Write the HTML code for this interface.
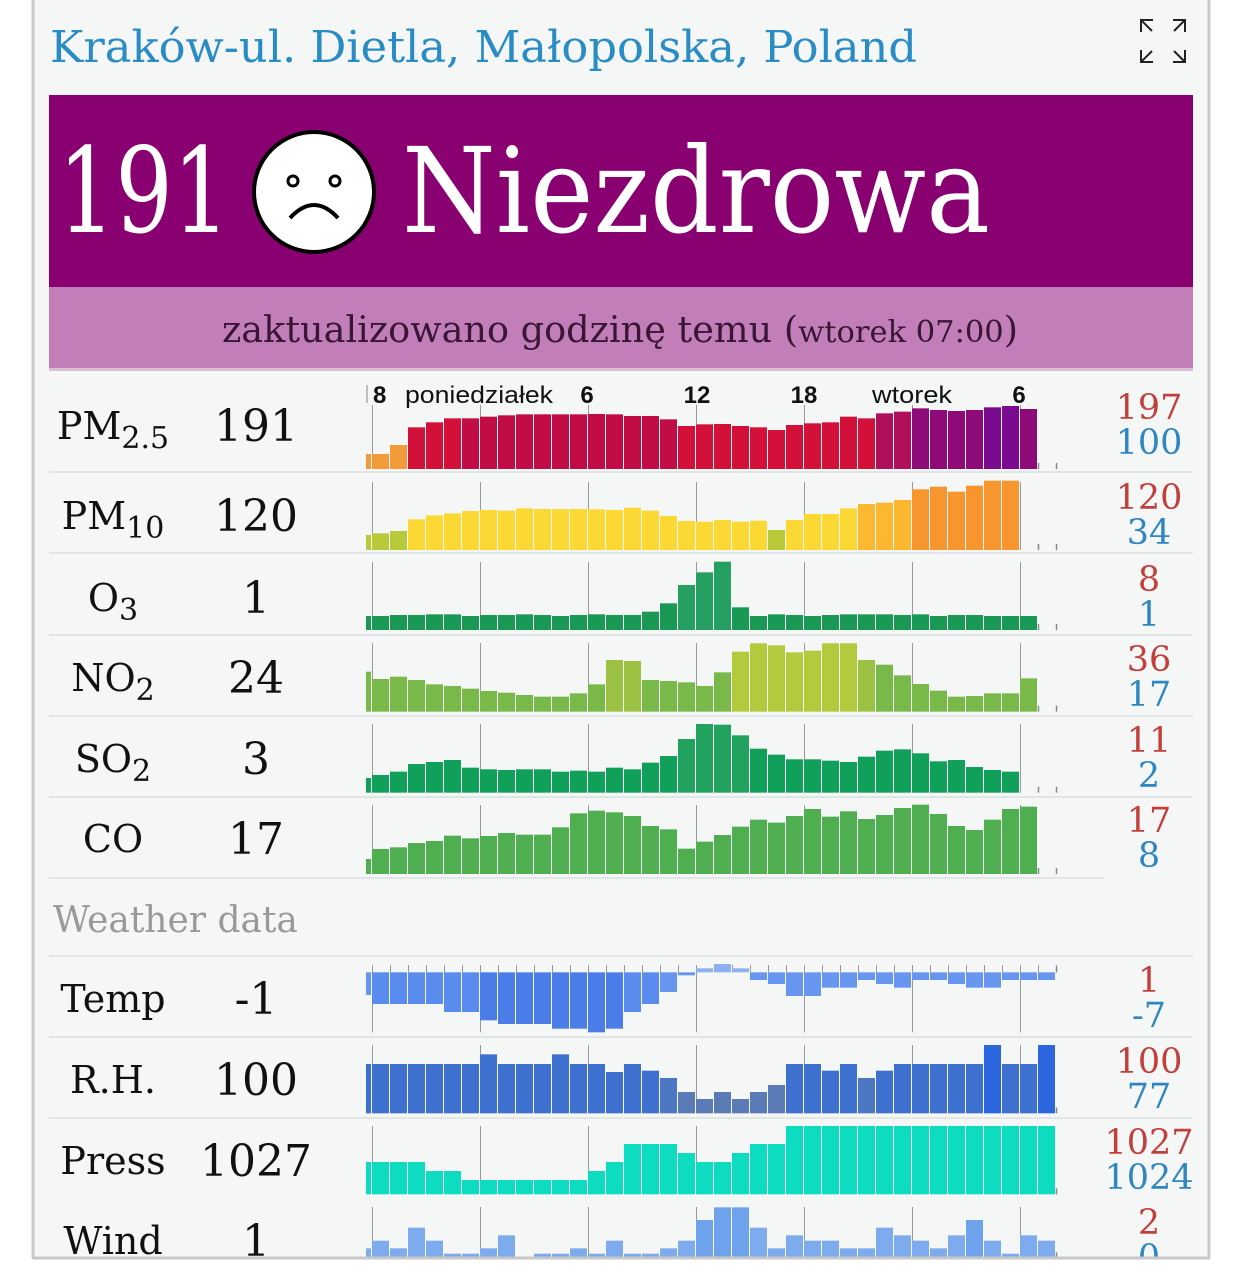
<!DOCTYPE html>
<html><head><meta charset="utf-8"><style>
html,body{margin:0;padding:0;background:#fff;}
svg{display:block}
.s{font-family:"DejaVu Serif","Liberation Serif",serif}
.a{font-family:"Liberation Sans",sans-serif}
</style></head><body>
<svg id="c" width="1242" height="1281" viewBox="0 0 1242 1281" xmlns="http://www.w3.org/2000/svg">
<rect x="32" y="0" width="1178" height="1258" fill="#f5f7f7"/>
<line x1="33" y1="0" x2="33" y2="1258" stroke="#c8c8c8" stroke-width="3"/>
<line x1="1209" y1="0" x2="1209" y2="1258" stroke="#c8c8c8" stroke-width="3"/>
<text class="s" x="50" y="62" font-size="44" fill="#2a8cc4" textLength="867" lengthAdjust="spacingAndGlyphs">Kraków-ul. Dietla, Małopolska, Poland</text>
<g stroke="#222" stroke-width="2" fill="none">
<path d="M1141 32 V20 H1153 M1141 20 L1152 31"/>
<path d="M1185 32 V20 H1173 M1185 20 L1174 31"/>
<path d="M1141 50 V62 H1153 M1141 62 L1152 51"/>
<path d="M1185 50 V62 H1173 M1185 62 L1174 51"/>
</g>
<rect x="49" y="95" width="1144" height="192" fill="#890070"/>
<rect x="49" y="287" width="1144" height="83" fill="#c27eb8"/>
<rect x="49" y="368" width="1144" height="3" fill="#d8c0d4"/>
<text class="s" x="58" y="232" font-size="118" fill="#fff" textLength="172" lengthAdjust="spacingAndGlyphs">191</text>
<circle cx="314" cy="192" r="60" fill="#fff" stroke="#000" stroke-width="4"/>
<circle cx="293" cy="181" r="5" fill="none" stroke="#000" stroke-width="3"/>
<circle cx="335" cy="181" r="5" fill="none" stroke="#000" stroke-width="3"/>
<path d="M290 218 Q314 192 338 218" fill="none" stroke="#000" stroke-width="4"/>
<text class="s" x="402" y="232" font-size="118" fill="#fff" textLength="588" lengthAdjust="spacingAndGlyphs">Niezdrowa</text>
<text class="s" x="222" y="342" font-size="36" fill="#3a1636" textLength="796" lengthAdjust="spacingAndGlyphs">zaktualizowano godzinę temu (<tspan font-size="30">wtorek 07:00</tspan>)</text>
<g class="a" font-size="24" fill="#111">
<line x1="367" y1="385" x2="367" y2="403" stroke="#888"/>
<text x="373" y="403" font-weight="bold">8</text>
<text x="405" y="403" textLength="148" lengthAdjust="spacingAndGlyphs">poniedziałek</text>
<text x="587" y="403" font-weight="bold" text-anchor="middle">6</text>
<text x="697" y="403" font-weight="bold" text-anchor="middle">12</text>
<text x="804" y="403" font-weight="bold" text-anchor="middle">18</text>
<text x="872" y="403" textLength="80" lengthAdjust="spacingAndGlyphs">wtorek</text>
<text x="1019" y="403" font-weight="bold" text-anchor="middle">6</text>
</g>
<text class="s" x="53" y="932" font-size="36" fill="#999">Weather data</text>
<g id="bars"></g>
<g id="lbl" class="s" fill="#111"></g>
<rect x="0" y="1258" width="1242" height="23" fill="#fff"/>
<line x1="32" y1="1258" x2="1210" y2="1258" stroke="#c8c8c8" stroke-width="3"/>
</svg>
<script>
var NS="http://www.w3.org/2000/svg",B=document.getElementById('bars'),L=document.getElementById('lbl');
function el(p,t,a,txt){var e=document.createElementNS(NS,t);for(var k in a)e.setAttribute(k,a[k]);if(txt!==undefined)e.textContent=txt;p.appendChild(e);return e;}
function rect(x,y,w,h,c){if(h<=0)return;el(B,'rect',{x:x,y:y,width:w,height:h,fill:c});}
var rows=[
{y0:370,b:297,gt:405,s:252,v:[252,225,172,157,145,145,140,136,133,133,133,133,132,133,138,138,148,168,163,162,168,172,180,165,160,157,140,145,130,125,115,120,123,120,112,108,117],
 c:function(i){if(i<2)return'#f39a3a';if(i>=30)return(i==34||i==35)?'#7a0a90':'#8e0a78';if(i>=28)return'#b0105a';if(i>=5&&i<=16)return'#c20c45';return'#d2103a';}},
{y0:370,b:540,gt:482,s:495,v:[490,483,448,436,430,423,420,422,415,417,417,417,418,420,413,422,438,453,455,450,455,452,480,450,432,432,415,402,398,390,358,350,365,347,332,332],
 c:function(i){if(i<2||i==22)return'#b8c93a';if(i>=30)return'#f7962e';if(i>=27)return'#fbb830';return'#fcd835';}},
{y0:370,b:780,gt:562,s:738,v:[738,735,735,733,733,738,735,735,733,735,738,735,733,735,735,725,700,645,607,575,712,738,733,735,738,735,733,733,733,735,733,738,735,735,738,738,738],
 c:function(i){return (i>=17&&i<=19)?'#26a060':'#1a9856';}},
{y0:630,b:245,gt:643,s:125,v:[147,140,150,163,168,176,183,188,195,200,200,190,163,90,93,150,153,157,168,127,65,40,46,67,62,40,40,90,104,136,162,182,200,198,190,190,145],
 c:function(i){if(i>=20&&i<=26)return'#b2ca3c';if(i==13||i==14||i==27)return'#9cc244';return'#78b94a';}},
{y0:630,b:488,gt:724,s:444,v:[435,425,402,396,390,413,418,420,418,418,425,422,425,413,418,398,378,327,282,284,316,356,374,388,388,392,396,380,362,358,370,394,390,411,420,425],
 c:function(i){return (i>=17&&i<=20)?'#22a25f':'#11a05a';}},
{y0:630,b:732,gt:805,s:687,v:[657,652,639,633,617,625,618,609,614,614,592,550,542,547,558,588,598,656,635,615,590,569,578,558,537,560,544,567,555,534,524,552,588,600,569,537,530],
 c:function(i){return '#4fae50';}},
{y0:950,b:67,gt:965,temp:1,s:135,v:[162,162,162,162,186,186,211,222,222,222,236,236,247,236,186,162,126,76,-55,-42,-55,90,102,138,138,113,113,90,102,113,90,90,102,113,113,90,90,90],
 c:function(i,v){if(v<0)return'#8fb0f0';if(v>=200)return'#4a7de8';if(v>=150)return'#5a8bee';return'#6796f1';}},
{y0:950,b:490,gt:1045,s:342,v:[342,342,342,342,342,342,313,342,342,342,313,342,342,366,342,362,384,426,447,426,447,426,405,342,342,362,342,384,362,342,342,342,342,342,285,342,342,285],
 c:function(i,v){if(v>=405)return'#5a7bb5';if(v==384)return'#4d77c2';if(v==285)return'#2c66de';return'#3e70d0';}},
{y0:950,b:733,gt:1126,s:636,v:[636,636,636,663,663,690,690,690,690,690,690,690,663,636,582,582,582,609,636,636,609,582,582,528,528,528,528,528,528,528,528,528,528,528,528,528,528,528],
 c:function(){return '#0ddcc0';}},
{y0:950,b:925,gt:1207,s:895,v:[872,895,833,872,911,911,895,856,925,911,911,895,911,872,911,911,895,872,810,772,772,833,895,856,872,872,895,895,833,856,872,895,856,810,872,911,856,872],
 c:function(i,v){return v<=810?'#6fa2ec':'#7eaaee';}}
];
var labels=[
['PM','2.5','191','197','100'],['PM','10','120','120','34'],['O','3','1','8','1'],['NO','2','24','36','17'],['SO','2','3','11','2'],['CO','','17','17','8'],
['Temp','','-1','1','-7'],['R.H.','','100','100','77'],['Press','','1027','1027','1024'],['Wind','','1','2','0']];
var seps=[472,553,635,716,797,878,956,1037,1118,1199];
rows.forEach(function(r,k){
  var base=r.y0+r.b/3, n=r.v.length;
  // gridlines
  var gb = r.temp? r.y0+247/3 : base;
  for(var g=0;g<7;g++){var gx=372+108*g+0.5;el(B,'line',{x1:gx,y1:r.gt,x2:gx,y2:gb,stroke:'#9a9a9a','stroke-width':1});}
  if(r.temp){for(var t=0;t<=38;t++){var tx=372+18*t+0.5;el(B,'line',{x1:tx,y1:r.gt,x2:tx,y2:base,stroke:'#9a9a9a','stroke-width':1});}}
  // sliver
  var sv=r.s;
  if(r.temp){rect(366,base,5,(sv-r.b)/3,r.c(0,sv));}
  else rect(366,r.y0+sv/3,5,base-(r.y0+sv/3),r.c(0,sv));
  for(var i=0;i<n;i++){
    var v=r.v[i],x=372+18*i,col=r.c(i,v);
    if(r.temp){ if(v<0) rect(x,r.y0+(-v)/3,17,base-(r.y0+(-v)/3),col); else rect(x,base,17,(v-r.b)/3,col);}
    else {var top=r.y0+v/3; rect(x,top,17,base-top,col);}
  }
  // trailing ticks
  var end=372+18*n;
  [1038,1056].forEach(function(tx){ if(tx>=end-1) el(B,'line',{x1:tx+0.5,y1:base-6,x2:tx+0.5,y2:base,stroke:'#888','stroke-width':1.5}); });
  // separator
  if(k<9){var sx2=(k==5)?1105:1193; el(B,'line',{x1:49,y1:seps[k],x2:sx2,y2:seps[k],stroke:'#e2e5e5','stroke-width':2});}
  if(k==6) el(B,'line',{x1:49,y1:956,x2:1193,y2:956,stroke:'#e2e5e5','stroke-width':2});
  // labels
  var lb=labels[k], cy=[425,515,597,677,758,838,998,1079,1160,1240][k];
  var t=el(L,'text',{x:113,y:cy+14,'font-size':38,'text-anchor':'middle'});
  el(t,'tspan',{},lb[0]); if(lb[1]) el(t,'tspan',{'font-size':30,dy:9},lb[1]);
  el(L,'text',{x:256,y:cy+16,'font-size':44,'text-anchor':'middle'},lb[2]);
  el(L,'text',{x:1149,y:cy-6,'font-size':35,'text-anchor':'middle',fill:'#c2403c'},lb[3]);
  el(L,'text',{x:1149,y:cy+29,'font-size':35,'text-anchor':'middle',fill:'#2f86c0'},lb[4]);
});
</script>
</body></html>
